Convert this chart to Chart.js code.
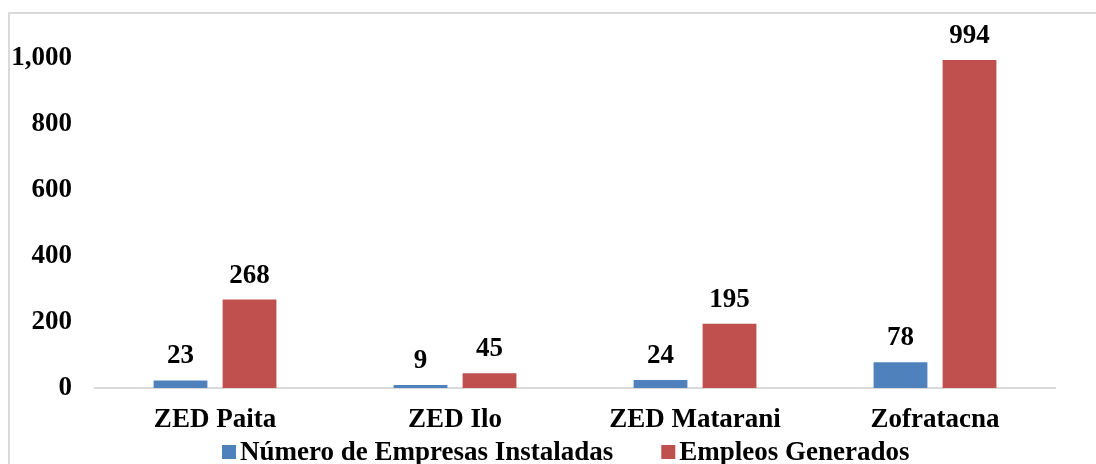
<!DOCTYPE html>
<html>
<head>
<meta charset="utf-8">
<script src="https://cdn.jsdelivr.net/npm/chart.js@4"></script>
<style>
  html, body { margin: 0; padding: 0; background: #fff; }
  #wrap { width: 1096px; height: 464px; position: relative; }
</style>
</head>
<body>
<div id="wrap"><canvas id="zonasChart" width="1096" height="464"></canvas></div>
<script>
// datos del grafico
const categorias = ['ZED Paita', 'ZED Ilo', 'ZED Matarani', 'Zofratacna'];
const empresas = [23, 9, 24, 78];
const empleos = [268, 45, 195, 994];
const serieNombres = ['Número de Empresas Instaladas', 'Empleos Generados'];
const serieColores = ['#4F81BD', '#C0504D'];
const yTicks = [0, 200, 400, 600, 800, 1000];

const fuente = '"Liberation Serif", "Times New Roman", serif';
const tam = 27;

// marco gris (arriba e izquierda) como en la imagen original
const marco = {
  id: 'marco',
  beforeDraw(chart) {
    const ctx = chart.ctx;
    ctx.save();
    ctx.fillStyle = '#ffffff';
    ctx.fillRect(0, 0, chart.width, chart.height);
    ctx.strokeStyle = '#d9d9d9';
    ctx.lineWidth = 2;
    ctx.beginPath();
    ctx.moveTo(9, chart.height);
    ctx.lineTo(9, 13);
    ctx.lineTo(chart.width, 13);
    ctx.stroke();
    ctx.restore();
  }
};

// etiquetas de valor encima de cada barra
const etiquetas = {
  id: 'etiquetas',
  afterDatasetsDraw(chart) {
    const ctx = chart.ctx;
    ctx.save();
    ctx.font = 'bold ' + tam + 'px ' + fuente;
    ctx.fillStyle = '#000';
    ctx.textAlign = 'center';
    ctx.textBaseline = 'alphabetic';
    chart.data.datasets.forEach((ds, i) => {
      chart.getDatasetMeta(i).data.forEach((bar, j) => {
        ctx.fillText(ds.data[j].toLocaleString('en-US'), bar.x, bar.y - 17);
      });
    });
    ctx.restore();
  }
};

// leyenda dibujada a mano para controlar los espacios
const leyenda = {
  id: 'leyenda',
  afterDraw(chart) {
    const ctx = chart.ctx;
    ctx.save();
    ctx.font = 'bold ' + tam + 'px ' + fuente;
    ctx.textBaseline = 'middle';
    ctx.textAlign = 'left';
    const y = 452;
    const caja = 14, gapTexto = 4, gapItems = 48;
    const anchos = serieNombres.map(n => ctx.measureText(n).width);
    let x = 222;
    serieNombres.forEach((n, i) => {
      ctx.fillStyle = serieColores[i];
      ctx.fillRect(x, y - 7, caja, caja);
      ctx.fillStyle = '#000';
      ctx.fillText(n, x + caja + gapTexto, y + 1);
      x += caja + gapTexto + anchos[i] + gapItems;
    });
    ctx.restore();
  }
};

const ctx = document.getElementById('zonasChart').getContext('2d');
new Chart(ctx, {
  type: 'bar',
  data: {
    labels: categorias,
    datasets: [
      { label: serieNombres[0], data: empresas, backgroundColor: serieColores[0] },
      { label: serieNombres[1], data: empleos, backgroundColor: serieColores[1] }
    ]
  },
  options: {
    responsive: false,
    animation: false,
    devicePixelRatio: 1,
    layout: { padding: { top: 58, right: 41, bottom: 28, left: 0 } },
    datasets: {
      bar: { barPercentage: 0.78, categoryPercentage: 0.575 }
    },
    plugins: {
      legend: { display: false },
      tooltip: { enabled: false }
    },
    scales: {
      x: {
        grid: { display: false, drawTicks: false },
        border: { display: true, color: '#d9d9d9', width: 2 },
        ticks: { color: '#000', padding: 16, font: { family: fuente, size: tam, weight: 'bold' } },
        afterFit(scale) { scale.height = 48; }
      },
      y: {
        min: 0,
        max: 1000,
        afterBuildTicks(scale) { scale.ticks = yTicks.map(v => ({ value: v })); },
        grid: { display: false, drawTicks: false },
        border: { display: false },
        ticks: {
          color: '#000',
          padding: 23,
          font: { family: fuente, size: tam, weight: 'bold' },
          callback: v => v.toLocaleString('en-US')
        },
        afterFit(scale) { scale.width = 95; }
      }
    }
  },
  plugins: [marco, etiquetas, leyenda]
});
</script>
</body>
</html>
